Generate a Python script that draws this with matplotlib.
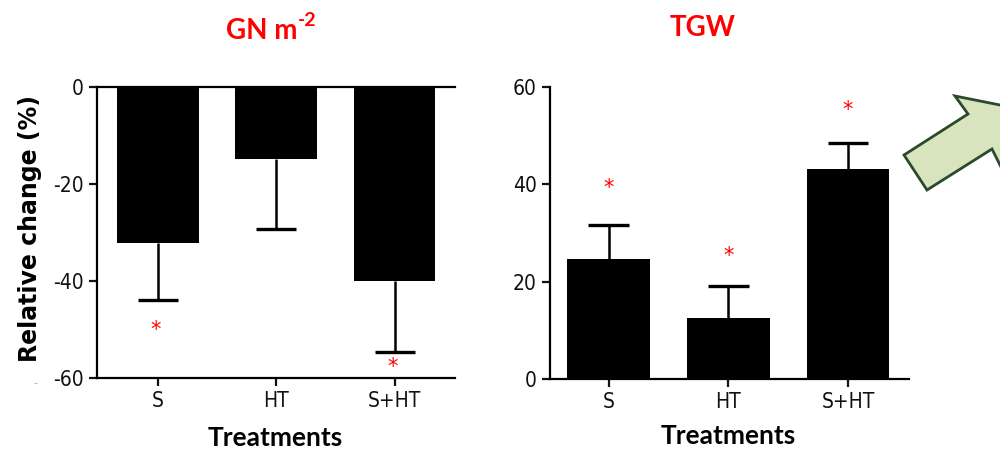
import matplotlib
matplotlib.use("Agg")
import matplotlib.pyplot as plt
from matplotlib.patches import Polygon
import numpy as np

plt.rcParams['axes.unicode_minus'] = False

categories = ["S", "HT", "S+HT"]

gn_values = [-32.2, -14.8, -40.1]
gn_errors = [11.7, 14.5, 14.6]
gn_star_y = [-50.1, None, -57.7]

tgw_values = [24.6, 12.5, 43.1]
tgw_errors = [7.0, 6.6, 5.4]
tgw_star_y = [39.2, 25.3, 55.3]

gn_yticks = [0, -20, -40, -60]
tgw_yticks = [0, 20, 40, 60]

label_font = ['Lato', 'DejaVu Sans']

W, H = 1000, 450
fig = plt.figure(figsize=(10, 4.5), dpi=100)

def px_axes(x0, y0, x1, y1):
    return fig.add_axes([x0 / W, 1 - y1 / H, (x1 - x0) / W, (y1 - y0) / H])

ax1 = px_axes(97, 87, 455, 378)
ax2 = px_axes(550, 87, 909, 379)

x = np.arange(len(categories))
bw = 0.69
cap_half = 0.17

def style(ax):
    for s in ax.spines.values():
        s.set_linewidth(1.6)
    ax.tick_params(axis='both', width=1.6, length=6, labelsize=15, colors='#111111')
    for lab in ax.get_xticklabels() + ax.get_yticklabels():
        lab.set_family('DejaVu Sans')
        lab.set_stretch('condensed')

def one_sided_err(ax, xs, vals, errs, sign):
    ends = [v + sign * e for v, e in zip(vals, errs)]
    ax.vlines(xs, vals, ends, color='black', linewidth=1.8, zorder=1)
    ax.hlines(ends, xs - cap_half, xs + cap_half, color='black', linewidth=2.4, zorder=1)

# Left panel
ax1.bar(x, gn_values, width=bw, color='black', zorder=2)
one_sided_err(ax1, x, gn_values, gn_errors, -1)
for xi, sy in zip(x, gn_star_y):
    if sy is not None:
        ax1.text(xi - 0.02, sy, '*', color='red', fontsize=15, ha='center', va='center')
ax1.set_xlim(-0.515, 2.51)
ax1.set_ylim(-60, 0)
ax1.set_yticks(gn_yticks)
ax1.set_xticks(x)
ax1.set_xticklabels(categories)
ax1.spines['right'].set_visible(False)
ax1.spines['top'].set_visible(True)
style(ax1)

# Right panel
ax2.bar(x, tgw_values, width=bw, color='black', zorder=2)
one_sided_err(ax2, x, tgw_values, tgw_errors, 1)
for xi, sy in zip(x, tgw_star_y):
    ax2.text(xi, sy, '*', color='red', fontsize=15, ha='center', va='center')
ax2.set_xlim(-0.49, 2.51)
ax2.set_ylim(0, 60)
ax2.set_yticks(tgw_yticks)
ax2.set_xticks(x)
ax2.set_xticklabels(categories)
ax2.spines['right'].set_visible(False)
ax2.spines['top'].set_visible(False)
style(ax2)

# Titles and labels
fig.text(262 / W, 1 - 31 / H, 'GN m', color='red', fontsize=20,
         fontweight='bold', ha='center', va='center', family=label_font)
fig.text(298 / W, 1 - 20 / H, '-2', color='red', fontsize=14,
         fontweight='bold', ha='left', va='center', family=label_font)
fig.text(703 / W, 1 - 28 / H, 'TGW', color='red', fontsize=20,
         fontweight='bold', ha='center', va='center', family=label_font)
fig.text(30 / W, 1 - 228 / H, 'Relative change (%)', rotation=90, fontsize=17,
         fontweight='bold', ha='center', va='center', family=['DejaVu Sans'])
fig.text(275 / W, 1 - 438 / H, 'Treatments', fontsize=19,
         fontweight='bold', ha='center', va='center', family=label_font)
fig.text(728 / W, 1 - 436 / H, 'Treatments', fontsize=19,
         fontweight='bold', ha='center', va='center', family=label_font)
fig.text(35 / W, 1 - 383 / H, '-', fontsize=8, color='#aaaaaa', ha='center', va='center')

# Arrow shape (partially outside the figure)
arrow_px = [(955, 96), (968, 114), (904, 155), (927, 190), (992, 149),
            (1010, 185), (1040, 113)]
arrow_pts = [(px / W, 1 - py / H) for px, py in arrow_px]
fig.patches.append(Polygon(arrow_pts, closed=True, transform=fig.transFigure,
                           facecolor='#d7e4bd', edgecolor='#2b4a2b', linewidth=2,
                           figure=fig))

fig.savefig('out.png', dpi=100)
